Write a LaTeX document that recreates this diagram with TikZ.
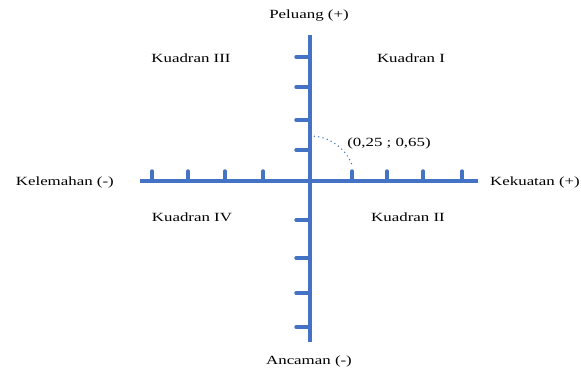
\documentclass[tikz,border=0pt]{standalone}
\usepackage{fontspec}
\setmainfont{Liberation Serif}[FakeStretch=1.35]
\usepackage{xcolor}
\definecolor{axisblue}{HTML}{4472C4}
\usetikzlibrary{positioning}

\begin{document}
\begin{tikzpicture}[
		x=1pt, y=-1pt,
		axis/.style={draw=axisblue, line width=3.8pt},
		tick/.style={draw=axisblue, line width=3.4pt, line cap=round},
		label/.style={inner sep=0pt, font=\fontsize{12.5}{14}\selectfont},
		arcdot/.style={draw=axisblue, line width=1.6pt, line cap=round, dash pattern=on 0pt off 4.4pt},
		]
		\useasboundingbox (0,0) rectangle (581,374);
		% sumbu
		\coordinate (o) at (310,181);
		\coordinate (kiri) at (140,181);
		\coordinate (kanan) at (478,181);
		\coordinate (atas) at (310,35);
		\coordinate (bawah) at (310,342);
		
		\foreach \x in {152,188,225,263,352,387,423,462}
		\draw[tick] (\x,180) -- (\x,171);
		\foreach \y in {57,87,120,150,220,258,293,327}
		\draw[tick] (309,\y) -- (296,\y);
		
		\draw[axis] (kiri) -- (kanan);
		\draw[axis] (atas) -- (bawah);
		
		\draw[arcdot] ([yshift=45pt]o) arc[start angle=-90, end angle=-22, radius=45];
		
		\node[label] (peluang) at (309,16) {Peluang (+)};
		\node[label] (ancaman) at (309,361) {Ancaman (-)};
		\node[label, anchor=east] (kelemahan) at (114,182) {Kelemahan (-)};
		\node[label, anchor=west] (kekuatan) at (490,182) {Kekuatan (+)};
		
		\node[label] (k3) at (191,58) {Kuadran III};
		\node[label] (k1) at (411,58) {Kuadran I};
		\node[label] (k4) at (192,217) {Kuadran IV};
		\node[label] (k2) at (408,217) {Kuadran II};
		
		\node[label] (titik) at (389,143) {(0,25 ; 0,65)};
	\end{tikzpicture}
\end{document}
